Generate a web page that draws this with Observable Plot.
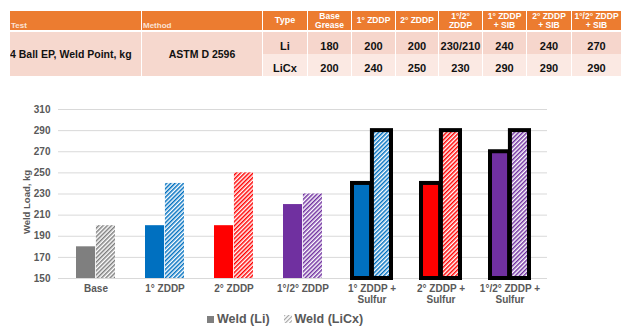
<!DOCTYPE html>
<html><head><meta charset="utf-8">
<script src="https://cdn.jsdelivr.net/npm/d3@7"></script>
<script src="https://cdn.jsdelivr.net/npm/@observablehq/plot@0.6"></script>
<style>
body{margin:0;width:631px;height:335px;position:relative;font-family:"Liberation Sans",Arial,sans-serif;background:#fff;overflow:hidden}
#tbl{position:absolute;left:10px;top:11px;border-collapse:separate;border-spacing:0;table-layout:fixed;width:612px}
#tbl td,#tbl th{box-sizing:border-box;padding:0;border-right:1.5px solid #fff;font-weight:bold;text-align:center;white-space:pre;overflow:hidden}
#tbl th{background:#ec7c30;color:#fff;font-size:8.5px;line-height:9px;height:21px;border-bottom:2px solid #fff;vertical-align:middle}
#tbl th.bl{text-align:left;vertical-align:bottom;font-size:8px;color:#fbe3d6;padding-left:1px}
#tbl td{font-size:11px;line-height:13px;color:#111;height:22px;vertical-align:bottom;padding-bottom:1px}
#tbl tr.r1 td{background:#f6d6cc}
#tbl tr.r2 td{background:#fbe9e3}
#tbl td.merge{background:#f6d8ce !important;vertical-align:middle;padding-bottom:0}
#tbl td.left{text-align:left}
#chart{position:absolute;left:0;top:90px}
#ylabel{position:absolute;left:-23px;top:196px;width:100px;height:12px;line-height:12px;text-align:center;font-size:9.5px;font-weight:bold;color:#595959;transform:rotate(-90deg);transform-origin:50% 50%;white-space:nowrap}
#legend{position:absolute;top:312px;left:207px;display:flex;align-items:center;font-size:12.5px;font-weight:bold;color:#595959}
#legend .sw{display:inline-block;width:7px;height:7px;margin-right:3px}
</style></head><body>
<table id="tbl"><colgroup></colgroup><thead><tr></tr></thead><tbody></tbody></table>
<div id="chart"></div>
<div id="ylabel"></div>
<div id="legend"></div>
<script>
// ---- data ----
const categories = ["Base", "1° ZDDP", "2° ZDDP", "1°/2° ZDDP", "1° ZDDP +\nSulfur", "2° ZDDP +\nSulfur", "1°/2° ZDDP +\nSulfur"];
const weldLi = [180, 200, 200, 220, 240, 240, 270];
const weldLiCx = [200, 240, 250, 230, 290, 290, 290];
const barColors = ["#7f7f7f", "#0070c0", "#ff0000", "#7030a0", "#0070c0", "#ff0000", "#7030a0"];
const outlined = [false, false, false, false, true, true, true];
const yTicks = [150, 170, 190, 210, 230, 250, 270, 290, 310];
const seriesNames = ["Weld (Li)", "Weld (LiCx)"];
const yLabel = "Weld Load, kg";

const tableHeaders = ["Test", "Method", "Type", "Base\nGrease", "1° ZDDP", "2° ZDDP", "1°/2°\nZDDP", "1° ZDDP\n+ SIB", "2° ZDDP\n+ SIB", "1°/2° ZDDP\n+ SIB"];
const tableColWidths = [132, 121, 45, 44, 44, 43, 44, 44, 45, 50];
const tableTest = "4 Ball EP, Weld Point, kg";
const tableMethod = "ASTM D 2596";
const tableTypes = ["Li", "LiCx"];
const tableLi = ["180", "200", "200", "230/210", "240", "240", "270"];
const tableLiCx = ["200", "240", "250", "230", "290", "290", "290"];

// ---- table ----
const tbl = d3.select("#tbl");
tbl.select("colgroup").selectAll("col").data(tableColWidths).join("col").style("width", d => d + "px");
tbl.select("thead tr").selectAll("th").data(tableHeaders).join("th")
  .attr("class", (d, i) => i < 2 ? "bl" : null)
  .style("font-size", (d, i) => i === 2 ? "9px" : null)
  .text(d => d);
const tbody = tbl.select("tbody");
[tableLi, tableLiCx].forEach((vals, r) => {
  const tr = tbody.append("tr").attr("class", "r" + (r + 1));
  if (r === 0) {
    tr.append("td").attr("rowspan", 2).attr("class", "merge left").style("font-size", "10.5px").text(tableTest);
    tr.append("td").attr("rowspan", 2).attr("class", "merge").style("font-size", "10.5px").text(tableMethod);
  }
  tr.append("td").text(tableTypes[r]);
  vals.forEach(v => tr.append("td").text(v));
});

// ---- chart ----
const data = categories.map((c, i) => ({cat: c, li: weldLi[i], licx: weldLiCx[i], color: barColors[i], outlined: outlined[i], pid: "hatch" + i}));
const W = 631, mL = 58, mR = 84, pad = 0.43;
const bw = (W - mL - mR) / categories.length * (1 - pad);

const defs = () => {
  const g = d3.create("svg:defs");
  data.forEach(d => {
    const p = g.append("pattern").attr("id", d.pid).attr("patternUnits", "userSpaceOnUse")
      .attr("width", 3).attr("height", 3).attr("patternTransform", "rotate(45)");
    p.append("rect").attr("width", 3).attr("height", 3).attr("fill", "#fff");
    p.append("rect").attr("width", 1.5).attr("height", 3).attr("fill", d.color);
  });
  return g.node();
};

const chart = Plot.plot({
  width: W, height: 223,
  marginLeft: mL, marginRight: mR, marginTop: 19, marginBottom: 35,
  x: {domain: categories, paddingInner: pad, paddingOuter: pad / 2},
  y: {domain: [150, 310]},
  color: {type: "identity"},
  style: {fontFamily: "Liberation Sans, Arial, sans-serif", fontSize: "10px", fontWeight: "bold", color: "#595959", background: "transparent"},
  marks: [
    defs,
    Plot.ruleY(yTicks, {stroke: "#d9d9d9", strokeWidth: 1}),
    Plot.barY(data, {x: "cat", y1: 150, y2: "li", fill: "color", insetRight: bw / 2}),
    Plot.barY(data, {x: "cat", y1: 150, y2: "licx", fill: d => `url(#${d.pid})`, insetLeft: bw / 2}),
    Plot.barY(data.filter(d => d.outlined), {x: "cat", y1: 150, y2: "li", fill: "none", stroke: "#000", strokeWidth: 4, insetRight: bw / 2}),
    Plot.barY(data.filter(d => d.outlined), {x: "cat", y1: 150, y2: "licx", fill: "none", stroke: "#000", strokeWidth: 4, insetLeft: bw / 2}),
    Plot.axisY({ticks: yTicks, tickSize: 0, tickPadding: 8, label: null, fill: "#595959"}),
    Plot.axisX({tickSize: 0, tickPadding: 6, label: null, lineHeight: 1.08, fill: "#595959"})
  ]
});
document.getElementById("chart").appendChild(chart);
document.getElementById("ylabel").textContent = yLabel;

// ---- legend ----
const leg = d3.select("#legend");
seriesNames.forEach((name, i) => {
  const item = leg.append("span").style("display", "inline-flex").style("align-items", "center").style("margin-right", "14px");
  if (i === 0) {
    item.append("span").attr("class", "sw").style("background", barColors[0]);
  } else {
    const s = item.append("svg").attr("width", 8).attr("height", 8).style("margin-right", "3px");
    const p = s.append("defs").append("pattern").attr("id", "leghatch").attr("patternUnits", "userSpaceOnUse")
      .attr("width", 3).attr("height", 3).attr("patternTransform", "rotate(45)");
    p.append("rect").attr("width", 1.2).attr("height", 3).attr("fill", "#a6a6a6");
    s.append("rect").attr("width", 8).attr("height", 8).attr("fill", "url(#leghatch)");
  }
  item.append("span").text(name);
});
</script>
</body></html>
